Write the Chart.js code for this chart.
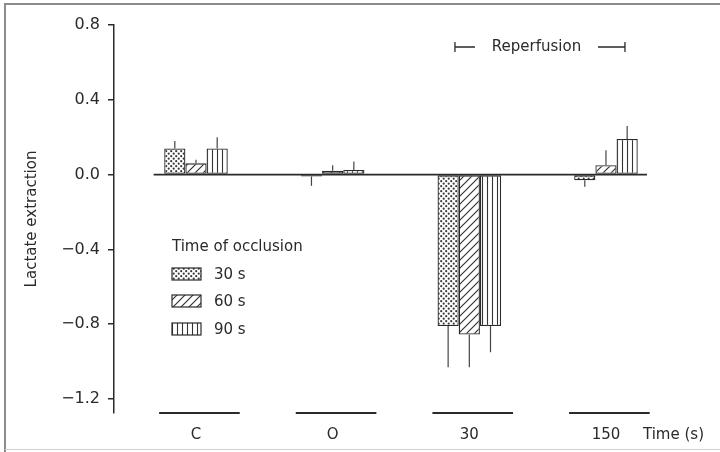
<!DOCTYPE html>
<html>
<head>
<meta charset="utf-8">
<script src="https://cdn.jsdelivr.net/npm/chart.js@4"></script>
<style>
  html, body { margin: 0; padding: 0; background: #fff; }
  canvas { display: block; }
</style>
</head>
<body>
<canvas id="chart" width="720" height="452"></canvas>
<script>
// categories (time points) and their x positions on the linear axis
const categories = ['C', 'O', '30', '150'];
const catX = [1, 2, 3, 4];

// lactate extraction per occlusion time
const occl30 = [0.14, -0.01, -0.81, -0.03];
const occl60 = [0.06, 0.02, -0.855, 0.05];
const occl90 = [0.14, 0.025, -0.81, 0.19];

// one-sided error (away from zero)
const err30 = [0.04, 0.05, 0.22, 0.035];
const err60 = [0.02, 0.03, 0.175, 0.08];
const err90 = [0.06, 0.045, 0.14, 0.07];

const yTicks = [0.8, 0.4, 0.0, -0.4, -0.8, -1.2];
const seriesNames = ['30 s', '60 s', '90 s'];

const INK = '#2a2a2a';
const FONT = '"DejaVu Sans", "Liberation Sans", Arial, sans-serif';

function makePattern(kind) {
  const c = document.createElement('canvas');
  const g = c.getContext('2d');
  if (kind === 'dots') {
    c.width = 5; c.height = 5;
    g.fillStyle = '#fff'; g.fillRect(0, 0, 5, 5);
    g.fillStyle = '#3a3a3a';
    g.beginPath(); g.arc(1.2, 1.2, 1.1, 0, Math.PI * 2); g.fill();
    g.beginPath(); g.arc(3.7, 3.7, 1.1, 0, Math.PI * 2); g.fill();
  } else if (kind === 'diag') {
    c.width = 8; c.height = 8;
    g.fillStyle = '#fff'; g.fillRect(0, 0, 8, 8);
    g.strokeStyle = '#333'; g.lineWidth = 1.2;
    g.beginPath();
    g.moveTo(-2, 10); g.lineTo(10, -2);
    g.moveTo(-2, 2); g.lineTo(2, -2);
    g.moveTo(6, 10); g.lineTo(10, 6);
    g.stroke();
  } else {
    c.width = 5; c.height = 5;
    g.fillStyle = '#fff'; g.fillRect(0, 0, 5, 5);
    g.strokeStyle = '#333'; g.lineWidth = 1.1;
    g.beginPath(); g.moveTo(2.5, 0); g.lineTo(2.5, 5); g.stroke();
  }
  return g.createPattern(c, 'repeat');
}

const patterns = [makePattern('dots'), makePattern('diag'), makePattern('vert')];
const allSeries = [occl30, occl60, occl90];
const allErr = [err30, err60, err90];

const datasets = allSeries.map((vals, s) => ({
  label: seriesNames[s],
  data: catX.map((x, i) => ({ x: x, y: vals[i] })),
  backgroundColor: patterns[s],
  borderColor: INK,
  borderWidth: 1.3,
  borderSkipped: false,
  barPercentage: 1,
  categoryPercentage: 0.465
}));

const extras = {
  id: 'extras',
  beforeDatasetsDraw(chart) {
    const ctx = chart.ctx;
    const xs = chart.scales.x, ys = chart.scales.y;
    ctx.save();
    ctx.strokeStyle = INK;
    // zero line
    ctx.lineWidth = 1.6;
    const y0 = ys.getPixelForValue(0);
    ctx.beginPath();
    ctx.moveTo(xs.getPixelForValue(catX[0] - 0.31), y0);
    ctx.lineTo(xs.getPixelForValue(catX[catX.length - 1] + 0.3), y0);
    ctx.stroke();
    // segments under each category
    ctx.lineWidth = 2;
    const yb = chart.chartArea.bottom;
    catX.forEach(x => {
      ctx.beginPath();
      ctx.moveTo(xs.getPixelForValue(x - 0.27), yb);
      ctx.lineTo(xs.getPixelForValue(x + 0.32), yb);
      ctx.stroke();
    });
    ctx.restore();
  },
  afterDatasetsDraw(chart) {
    const ctx = chart.ctx;
    const xs = chart.scales.x, ys = chart.scales.y;
    ctx.save();
    // error bars
    ctx.strokeStyle = '#444';
    ctx.lineWidth = 1.2;
    allSeries.forEach((vals, s) => {
      const meta = chart.getDatasetMeta(s);
      meta.data.forEach((bar, i) => {
        const v = vals[i];
        const e = v >= 0 ? v + allErr[s][i] : v - allErr[s][i];
        ctx.beginPath();
        ctx.moveTo(bar.x, ys.getPixelForValue(v));
        ctx.lineTo(bar.x, ys.getPixelForValue(e));
        ctx.stroke();
      });
    });

    // legend
    ctx.fillStyle = INK;
    ctx.font = '15px ' + FONT;
    ctx.textBaseline = 'middle';
    ctx.textAlign = 'left';
    ctx.fillText('Time of occlusion', 172, 247);
    const ly = [274, 301, 329];
    seriesNames.forEach((name, s) => {
      ctx.fillStyle = patterns[s];
      ctx.fillRect(172, ly[s] - 6, 29, 12);
      ctx.strokeStyle = INK;
      ctx.lineWidth = 1.2;
      ctx.strokeRect(172, ly[s] - 6, 29, 12);
      ctx.fillStyle = INK;
      ctx.fillText(name, 214, ly[s] + 1);
    });

    // reperfusion bracket
    const rl = xs.getPixelForValue(2.895), rr = xs.getPixelForValue(4.139);
    const ry = 47;
    ctx.strokeStyle = INK;
    ctx.lineWidth = 1.3;
    ctx.beginPath();
    ctx.moveTo(rl, ry - 5); ctx.lineTo(rl, ry + 5);
    ctx.moveTo(rl, ry); ctx.lineTo(rl + 20, ry);
    ctx.moveTo(rr - 27, ry); ctx.lineTo(rr, ry);
    ctx.moveTo(rr, ry - 5); ctx.lineTo(rr, ry + 5);
    ctx.stroke();
    ctx.textAlign = 'center';
    ctx.fillText('Reperfusion', (rl + 20 + rr - 27) / 2, ry);

    // x axis unit
    ctx.textAlign = 'left';
    ctx.fillText('Time (s)', 643, 435);

    // scan frame
    ctx.strokeStyle = '#8c8c8c';
    ctx.lineWidth = 2;
    ctx.beginPath();
    ctx.moveTo(720, 4); ctx.lineTo(5, 4); ctx.lineTo(5, 452);
    ctx.stroke();
    ctx.strokeStyle = '#d0d0d0';
    ctx.lineWidth = 1;
    ctx.beginPath();
    ctx.moveTo(5, 449.5); ctx.lineTo(720, 449.5);
    ctx.stroke();
    ctx.restore();
  }
};

new Chart(document.getElementById('chart').getContext('2d'), {
  type: 'bar',
  data: { datasets },
  options: {
    responsive: false,
    animation: false,
    layout: { padding: { top: 25, right: 20, left: 0, bottom: 0 } },
    plugins: {
      legend: { display: false },
      tooltip: { enabled: false }
    },
    scales: {
      x: {
        type: 'linear',
        offset: false,
        min: 0.4,
        max: 4.688,
        grid: { display: false, drawTicks: false },
        border: { display: false },
        afterBuildTicks: scale => { scale.ticks = catX.map(v => ({ value: v })); },
        afterFit: scale => { scale.height = 39; },
        ticks: {
          padding: 13,
          color: INK,
          font: { family: FONT, size: 15 },
          callback: v => categories[catX.indexOf(v)]
        }
      },
      y: {
        min: -1.275,
        max: 0.8,
        afterBuildTicks: scale => { scale.ticks = yTicks.map(v => ({ value: v })); },
        afterFit: scale => { scale.width = 114; },
        border: { display: true, color: INK, width: 1.5 },
        grid: { drawOnChartArea: false, drawTicks: true, tickLength: 6, color: INK, lineWidth: 1.5 },
        ticks: {
          padding: 8,
          color: INK,
          font: { family: FONT, size: 16 },
          callback: v => v.toFixed(1).replace('-', '\u2212')
        },
        title: {
          display: true,
          text: 'Lactate extraction',
          color: INK,
          font: { family: FONT, size: 15 },
          padding: { top: 23, bottom: 0 }
        }
      }
    }
  },
  plugins: [extras]
});
</script>
</body>
</html>
